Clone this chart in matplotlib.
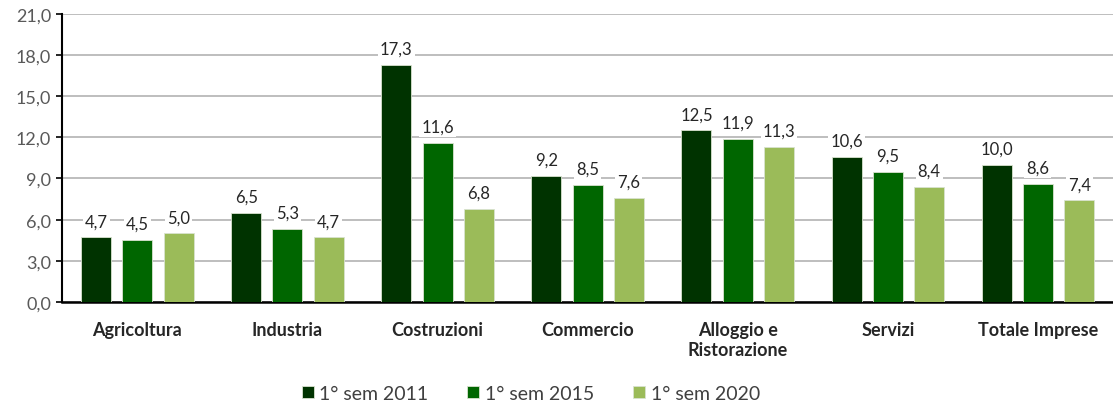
import numpy as np
import matplotlib.pyplot as plt

plt.rcParams['font.family'] = ['Lato', 'DejaVu Sans']

categories = ["Agricoltura", "Industria", "Costruzioni", "Commercio",
              "Alloggio e\nRistorazione", "Servizi", "Totale Imprese"]
series_names = ["1° sem 2011", "1° sem 2015", "1° sem 2020"]
sem_2011 = [4.7, 6.5, 17.3, 9.2, 12.5, 10.6, 10.0]
sem_2015 = [4.5, 5.3, 11.6, 8.5, 11.9, 9.5, 8.6]
sem_2020 = [5.0, 4.7, 6.8, 7.6, 11.3, 8.4, 7.4]
colors = ["#003300", "#006600", "#9BBB59"]

fig = plt.figure(figsize=(11.13, 4.10), dpi=100)
ax = fig.add_axes([0.056, 0.261, 0.944, 0.703])

x = np.arange(len(categories))
width = 0.2
offsets = [-0.275, 0.0, 0.275]
for vals, name, col, off in zip([sem_2011, sem_2015, sem_2020], series_names, colors, offsets):
    bars = ax.bar(x + off, vals, width, color=col, label=name,
                  edgecolor="#d9e3d0", linewidth=0.6, zorder=3)
    for b, v in zip(bars, vals):
        ax.text(b.get_x() + b.get_width() / 2, v + 0.6, f"{v:.1f}".replace(".", ","),
                ha="center", va="bottom", fontsize=12, color="#262626", zorder=4,
                bbox=dict(facecolor="white", edgecolor="none", pad=1.5))

ax.set_xlim(-0.5, len(categories) - 0.5)
ax.set_ylim(0, 21)
yt = np.arange(0, 21.1, 3)
ax.set_yticks(yt)
ax.set_yticklabels([f"{v:.1f}".replace(".", ",") for v in yt], fontsize=13, color="#595959")
ax.set_xticks(x)
ax.set_xticklabels(categories, fontsize=13, fontweight="bold", color="#262626")
ax.tick_params(axis="x", length=0, pad=14)
ax.tick_params(axis="y", length=4, width=1.2, color="black", pad=4)

ax.grid(axis="y", color="#b3b3b3", linewidth=1.2, zorder=0)
ax.set_axisbelow(True)
for s in ["top", "right"]:
    ax.spines[s].set_visible(False)
ax.spines["left"].set_linewidth(1.5)
ax.spines["bottom"].set_linewidth(1.8)

fig.legend(loc="lower center", bbox_to_anchor=(0.477, -0.025), ncol=3, frameon=False,
           fontsize=14, handlelength=0.6, handleheight=0.6, columnspacing=2.0,
           handletextpad=0.3, labelcolor="#404040")

fig.savefig("out.png", dpi=100)
